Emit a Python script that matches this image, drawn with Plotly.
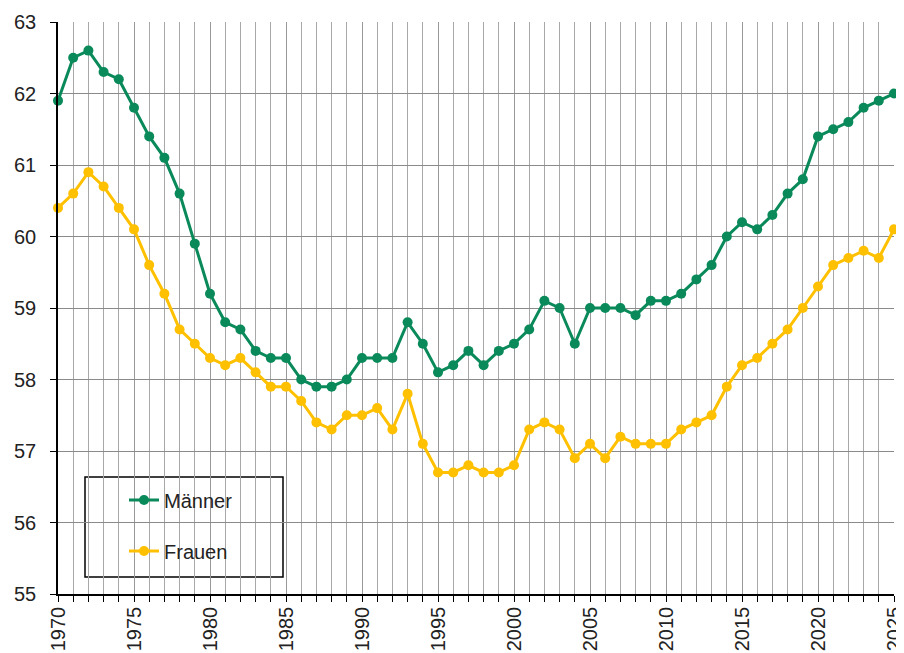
import plotly.graph_objects as go

years = list(range(1970, 2026))
maenner = [61.9, 62.5, 62.6, 62.3, 62.2, 61.8, 61.4, 61.1, 60.6, 59.9,
           59.2, 58.8, 58.7, 58.4, 58.3, 58.3, 58.0, 57.9, 57.9, 58.0,
           58.3, 58.3, 58.3, 58.8, 58.5, 58.1, 58.2, 58.4, 58.2, 58.4,
           58.5, 58.7, 59.1, 59.0, 58.5, 59.0, 59.0, 59.0, 58.9, 59.1,
           59.1, 59.2, 59.4, 59.6, 60.0, 60.2, 60.1, 60.3, 60.6, 60.8,
           61.4, 61.5, 61.6, 61.8, 61.9, 62.0]
frauen = [60.4, 60.6, 60.9, 60.7, 60.4, 60.1, 59.6, 59.2, 58.7, 58.5,
          58.3, 58.2, 58.3, 58.1, 57.9, 57.9, 57.7, 57.4, 57.3, 57.5,
          57.5, 57.6, 57.3, 57.8, 57.1, 56.7, 56.7, 56.8, 56.7, 56.7,
          56.8, 57.3, 57.4, 57.3, 56.9, 57.1, 56.9, 57.2, 57.1, 57.1,
          57.1, 57.3, 57.4, 57.5, 57.9, 58.2, 58.3, 58.5, 58.7, 59.0,
          59.3, 59.6, 59.7, 59.8, 59.7, 60.1]
series_names = ["Männer", "Frauen"]
colors = ["#0A8A5A", "#FFC000"]

fig = go.Figure()
for name, vals, col, grp in zip(series_names, [maenner, frauen], colors, ["a", "b"]):
    fig.add_trace(go.Scatter(
        x=years, y=vals, name=name, mode="lines+markers",
        line=dict(color=col, width=3),
        marker=dict(color=col, size=10),
        cliponaxis=False, legendgroup=grp,
    ))

font = "Liberation Sans, Arial, sans-serif"
PW, PH = 836, 572
fig.update_layout(
    width=896, height=645,
    margin=dict(l=50, r=10, t=14, b=59, autoexpand=False),
    paper_bgcolor="white", plot_bgcolor="white",
    font=dict(family=font, size=20, color="#222222"),
    showlegend=True,
    legend=dict(
        x=66 / PW, y=0.1985, xanchor="left", yanchor="top",
        bgcolor="rgba(0,0,0,0)", borderwidth=0,
        tracegroupgap=22, traceorder="grouped",
        font=dict(size=20, family=font, color="#222222"),
    ),
    shapes=[dict(type="rect", xref="paper", yref="paper",
                 x0=27 / PW, x1=225 / PW,
                 y0=17 / PH, y1=117 / PH,
                 line=dict(color="black", width=1.5), fillcolor="white",
                 layer="below")],
)
fig.update_xaxes(
    range=[1970, 2025], tick0=1970, dtick=5, tickangle=-90,
    automargin=False, ticklabelstandoff=-3, ticklabeloverflow="allow",
    showgrid=True, gridcolor="#999999", gridwidth=1,
    showline=True, linecolor="black", linewidth=1.5,
    ticks="outside", ticklen=6, tickcolor="black",
    minor=dict(dtick=1, showgrid=True, gridcolor="#a8a8a8", gridwidth=1,
               ticks="outside", ticklen=6, tickcolor="black"),
    zeroline=False,
)
fig.update_yaxes(
    range=[55, 63], dtick=1, automargin=False,
    showgrid=True, gridcolor="#8a8a8a", gridwidth=1,
    showline=True, linecolor="black", linewidth=1.5,
    ticks="outside", ticklen=6, tickcolor="black",
    ticklabelstandoff=10,
    zeroline=False,
)
fig.write_html("out.html")
